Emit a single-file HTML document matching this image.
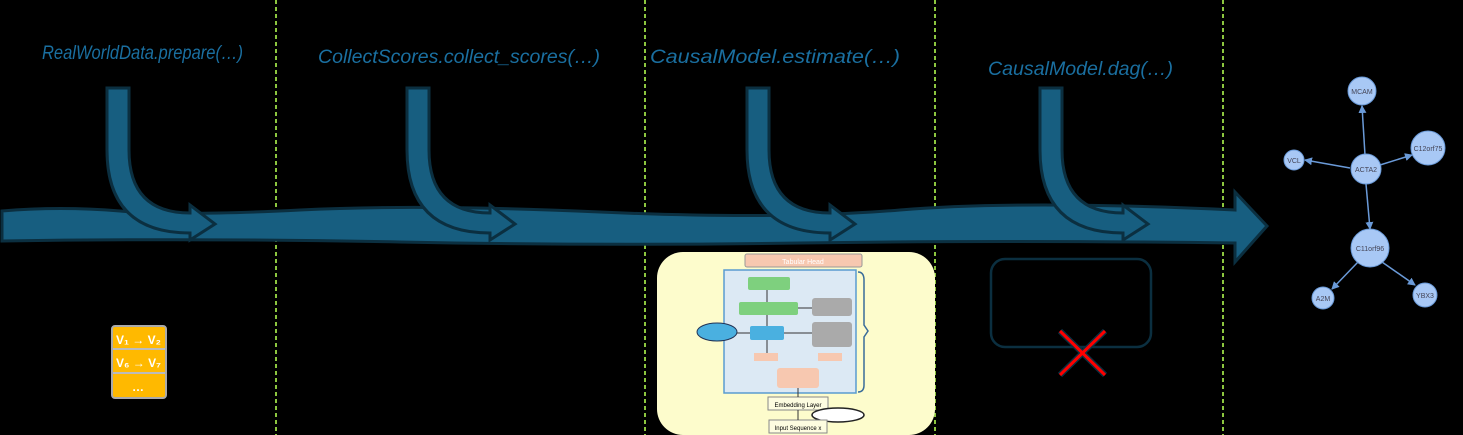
<!DOCTYPE html>
<html><head><style>
body{margin:0;background:#000;}
svg{display:block}
text{font-family:"Liberation Sans",sans-serif}
</style></head><body>
<svg width="1463" height="435" viewBox="0 0 1463 435">
<defs><marker id="ah" markerWidth="8" markerHeight="8" refX="7" refY="4" orient="auto" markerUnits="userSpaceOnUse"><path d="M0,0 L8,4 L0,8 Z" fill="#6a9ad8"/></marker></defs>
<rect width="1463" height="435" fill="#000"/>
<g font-size="19" font-style="italic" fill="#1a6fa0">
<text x="42" y="59" textLength="201" lengthAdjust="spacingAndGlyphs">RealWorldData.prepare(…)</text>
<text x="318" y="63" textLength="282" lengthAdjust="spacingAndGlyphs">CollectScores.collect_scores(…)</text>
<text x="650" y="63" textLength="250" lengthAdjust="spacingAndGlyphs">CausalModel.estimate(…)</text>
<text x="988" y="75" textLength="185" lengthAdjust="spacingAndGlyphs">CausalModel.dag(…)</text>
</g>
<g stroke="#8cc63f" stroke-width="2" stroke-dasharray="4,3">
<line x1="276" y1="0" x2="276" y2="435"/><line x1="645" y1="0" x2="645" y2="435"/>
<line x1="935" y1="0" x2="935" y2="435"/><line x1="1223" y1="0" x2="1223" y2="435"/>
</g>
<path d="M2,211 Q60,206 120,211 T300,210 T600,212 T900,210 T1235,210 L1235,192 L1267,226 L1235,262 L1235,243 Q1000,240 800,243 T400,242 T2,241 Z" fill="#175e80" stroke="#0b2f40" stroke-width="3"/>
<g fill="#175e80" stroke="#0b2f40" stroke-width="3">
<path id="ca" d="M107,88 L129,88 L129,150 Q129,213 190,213 L190,205 L215,224 L190,240 L190,233 Q107,233 107,150 Z"/>
<use href="#ca" x="300"/>
<use href="#ca" x="640"/>
<use href="#ca" x="933"/>
</g>
<g>
<rect x="112" y="326" width="54" height="72" rx="3" fill="#ffb900" stroke="#aaa" stroke-width="2"/>
<line x1="113" y1="349" x2="165" y2="349" stroke="#bbb" stroke-width="2"/>
<line x1="113" y1="373" x2="165" y2="373" stroke="#bbb" stroke-width="2"/>
<g fill="#fff" font-size="12" font-weight="bold" font-family="Liberation Serif,serif">
<text x="116" y="344">V₁ → V₂</text><text x="116" y="367">V₆ → V₇</text><text x="132" y="391">…</text>
</g>
</g>
<rect x="657" y="252" width="278" height="183" rx="26" fill="#fdfccc"/>
<rect x="745" y="254" width="117" height="13" rx="2" fill="#f7c8b0" stroke="#999"/>
<text x="803" y="264" font-size="7" fill="#fff" text-anchor="middle">Tabular Head</text>
<rect x="724" y="270" width="132" height="123" fill="#dce9f4" stroke="#5a9bd0" stroke-width="1.5"/>
<path d="M858,272 Q864,272 864,280 L864,325 L868,331 L864,337 L864,385 Q864,392 858,392" fill="none" stroke="#3a6c99" stroke-width="1.5"/>
<rect x="748" y="277" width="42" height="13" rx="2" fill="#7ed07e"/>
<rect x="739" y="302" width="59" height="13" rx="2" fill="#7ed07e"/>
<rect x="812" y="298" width="40" height="18" rx="3" fill="#aaa"/>
<rect x="812" y="322" width="40" height="25" rx="3" fill="#aaa"/>
<rect x="750" y="326" width="34" height="14" rx="2" fill="#4ab0e0"/>
<ellipse cx="717" cy="332" rx="20" ry="9" fill="#4ab0e0" stroke="#235"/>
<rect x="754" y="353" width="24" height="8" fill="#f7c8b0"/>
<rect x="818" y="353" width="24" height="8" fill="#f7c8b0"/>
<rect x="777" y="368" width="42" height="20" rx="3" fill="#f7c8b0"/>
<rect x="768" y="397" width="60" height="13" fill="#fdfce0" stroke="#888"/>
<text x="798" y="407" font-size="6" text-anchor="middle">Embedding Layer</text>
<ellipse cx="838" cy="415" rx="26" ry="7" fill="#fff" stroke="#222" stroke-width="1.5"/>
<rect x="769" y="420" width="58" height="13" fill="#fdfce0" stroke="#888"/>
<text x="798" y="430" font-size="6" text-anchor="middle">Input Sequence x</text>
<g stroke="#333" stroke-width="1" fill="none"><line x1="767" y1="290" x2="767" y2="302"/><line x1="767" y1="315" x2="767" y2="326"/><line x1="767" y1="340" x2="767" y2="353"/><line x1="798" y1="388" x2="798" y2="397"/><line x1="798" y1="410" x2="798" y2="420"/><line x1="750" y1="333" x2="737" y2="333"/><line x1="812" y1="333" x2="784" y2="333"/><line x1="812" y1="308" x2="798" y2="308"/></g>
<rect x="991" y="259" width="160" height="88" rx="14" fill="none" stroke="#0b2f40" stroke-width="2.5"/>
<g stroke="#0b2f40" stroke-width="6"><line x1="1060" y1="331" x2="1105" y2="375"/><line x1="1105" y1="331" x2="1060" y2="375"/></g>
<g stroke="#f00" stroke-width="3"><line x1="1060" y1="331" x2="1105" y2="375"/><line x1="1105" y1="331" x2="1060" y2="375"/></g>
<g stroke="#6a9ad8" stroke-width="1.5" marker-end="url(#ah)">
<line x1="1365" y1="155" x2="1362" y2="106"/><line x1="1350" y1="168" x2="1305" y2="160"/>
<line x1="1380" y1="165" x2="1412" y2="155"/><line x1="1366" y1="184" x2="1370" y2="229"/>
<line x1="1358" y1="262" x2="1332" y2="289"/><line x1="1382" y1="262" x2="1415" y2="285"/>
</g>
<g fill="#a8c8f5" stroke="#6a9ad8" stroke-width="1">
<circle cx="1362" cy="91" r="14"/><circle cx="1428" cy="148" r="17"/><circle cx="1294" cy="160" r="10"/>
<circle cx="1366" cy="169" r="15"/><circle cx="1370" cy="248" r="19"/><circle cx="1323" cy="298" r="11"/><circle cx="1425" cy="295" r="12"/>
</g>
<g font-size="7" fill="#445" text-anchor="middle">
<text x="1362" y="94">MCAM</text><text x="1428" y="151">C12orf75</text><text x="1294" y="163">VCL</text>
<text x="1366" y="172">ACTA2</text><text x="1370" y="251">C11orf96</text><text x="1323" y="301">A2M</text><text x="1425" y="298">YBX3</text>
</g>
</svg>
</body></html>
